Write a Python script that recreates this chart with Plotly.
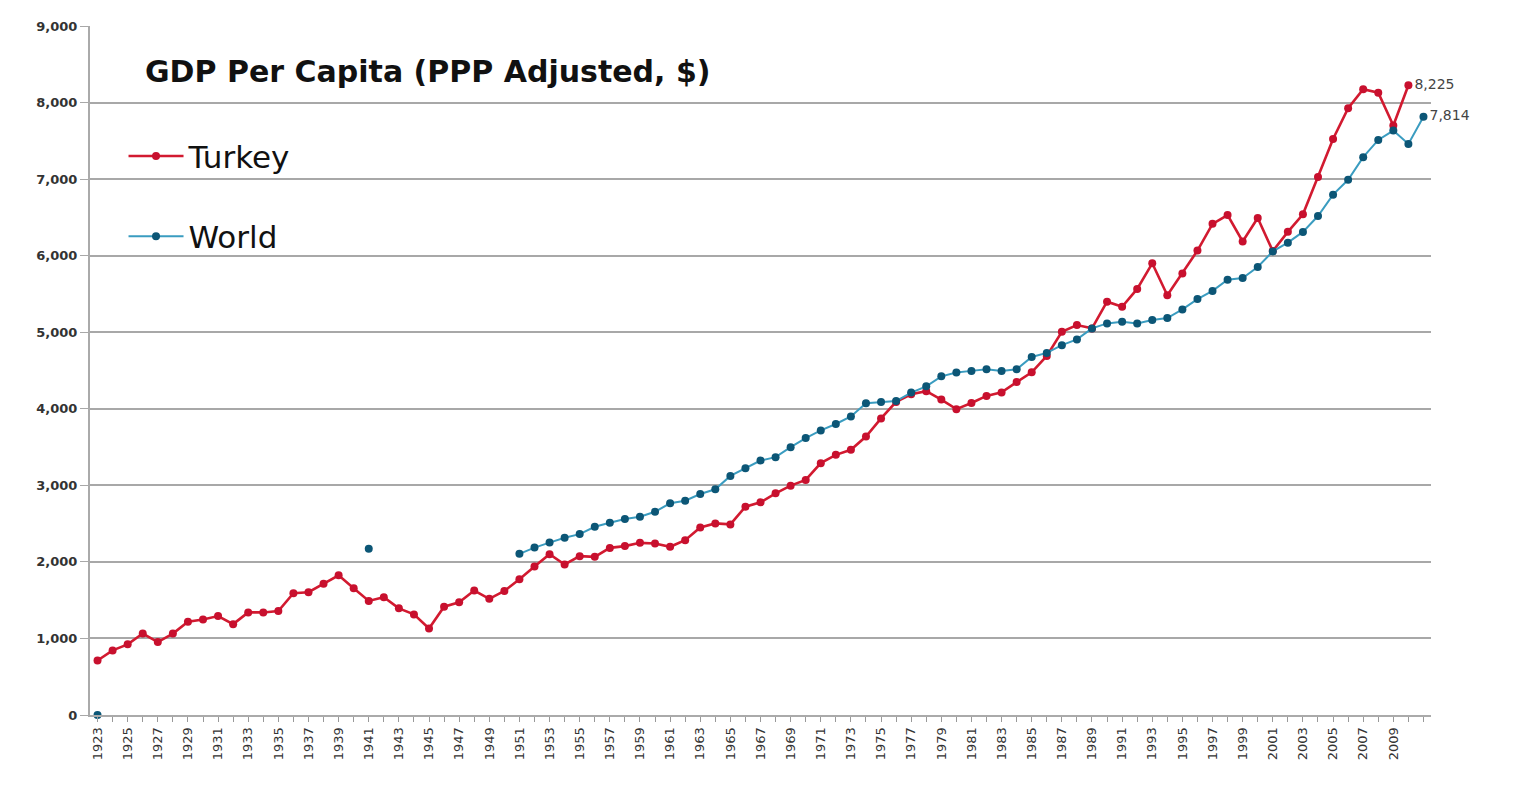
import plotly.graph_objects as go

years = list(range(1923, 2012))

turkey = [712, 844, 923, 1064, 953, 1064, 1217, 1248, 1292, 1187,
          1340, 1340, 1358, 1591, 1604, 1714, 1824, 1657, 1490, 1538,
          1393, 1314, 1130, 1415, 1472, 1626, 1518, 1620, 1772, 1940,
          2100, 1966, 2075, 2066, 2183, 2206, 2249, 2240, 2197, 2284,
          2450, 2503, 2490, 2721, 2778, 2896, 2996, 3071, 3290, 3398,
          3464, 3637, 3874, 4090, 4190, 4230, 4120, 3995, 4076, 4168,
          4214, 4349, 4476, 4690, 5005, 5093, 5050, 5399, 5333, 5566,
          5900, 5483, 5768, 6066, 6416, 6531, 6186, 6492, 6060, 6311,
          6540, 7028, 7525, 7926, 8173, 8129, 7700, 8225, None]

world = [0] + [None] * 17 + [2171] + [None] * 9 + [
          2105, 2187, 2252, 2315, 2363, 2459, 2511, 2560, 2590, 2655,
          2765, 2799, 2887, 2949, 3123, 3224, 3324, 3368, 3499, 3617,
          3717, 3801, 3900, 4073, 4090, 4100, 4212, 4293, 4424, 4475,
          4495, 4515, 4492, 4515, 4677, 4730, 4831, 4906, 5050, 5115,
          5136, 5115, 5160, 5185, 5298, 5433, 5540, 5686, 5708, 5852,
          6056, 6170, 6310, 6518, 6797, 6991, 7287, 7512, 7634, 7460,
          7814]

tick_years = years
tick_text = [str(y) if (y % 2 == 1 and y <= 2009) else "" for y in years]
y_ticks = list(range(0, 9001, 1000))
y_text = [f"{v:,}" for v in y_ticks]

title_text = "GDP Per Capita (PPP Adjusted, $)"


def last_label(vals):
    idx = max(i for i, v in enumerate(vals) if v is not None)
    return ["" if i != idx else f"{vals[i]:,}" for i in range(len(vals))]


fig = go.Figure()
fig.add_trace(go.Scatter(
    x=years, y=turkey, name="Turkey", mode="lines+markers+text",
    line=dict(color="#d21a30", width=2.6),
    marker=dict(color="#c8102e", size=8),
    text=last_label(turkey), textposition="middle right",
    textfont=dict(family="DejaVu Sans", size=14, color="#444444"),
    connectgaps=False, cliponaxis=False, legendgroup="t",
))
fig.add_trace(go.Scatter(
    x=years, y=world, name="World", mode="lines+markers+text",
    line=dict(color="#3a9cc0", width=2),
    marker=dict(color="#0c5676", size=8),
    text=last_label(world), textposition="middle right",
    textfont=dict(family="DejaVu Sans", size=14, color="#444444"),
    connectgaps=False, cliponaxis=False, legendgroup="w",
))

plot_w = 1513 - 82 - 90
plot_h = 785 - 18 - 78

fig.update_layout(
    width=1513, height=785,
    margin=dict(l=82, r=90, t=18, b=78),
    paper_bgcolor="white", plot_bgcolor="white",
    showlegend=True,
    legend=dict(x=0.025, y=0.85, xanchor="left", yanchor="top",
                bgcolor="rgba(0,0,0,0)", tracegroupgap=37, itemwidth=55,
                font=dict(family="DejaVu Sans", size=31, color="#111111")),
    xaxis=dict(range=[1922.5, 2011.5], tickmode="array", tickvals=tick_years,
               ticktext=tick_text, tickangle=-90, showgrid=False,
               ticks="outside", ticklen=5, tickcolor="#999999",
               showline=True, linecolor="#aaaaaa", linewidth=2,
               tickfont=dict(family="DejaVu Sans", size=13, color="#333333"),
               zeroline=False),
    yaxis=dict(range=[0, 9000], tickmode="array", tickvals=y_ticks,
               ticktext=y_text, showgrid=True, gridcolor="#a8a8a8",
               gridwidth=2, ticks="outside", ticklen=8, tickcolor="#a8a8a8",
               showline=True, linecolor="#aaaaaa", linewidth=2,
               tickfont=dict(family="DejaVu Sans", size=13, color="#333333",
                             weight="bold"),
               zeroline=False),
    annotations=[dict(
        text=title_text, xref="paper", yref="paper",
        x=(135 - 82) / plot_w, y=(707 - 64) / plot_h,
        xanchor="left", yanchor="middle", showarrow=False,
        font=dict(family="DejaVu Sans", size=30, color="#111111",
                  weight="bold"),
    )],
)

fig.write_html("out.html")
